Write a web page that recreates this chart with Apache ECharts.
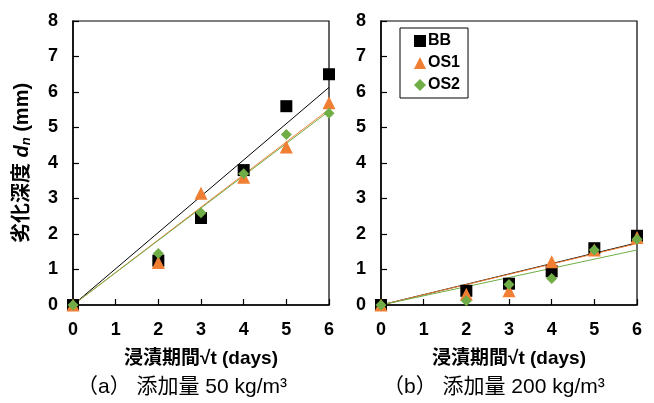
<!DOCTYPE html>
<html><head><meta charset="utf-8">
<script src="https://cdn.jsdelivr.net/npm/echarts@6/dist/echarts.min.js"></script>
<style>html,body{margin:0;padding:0;background:#fff}#c{width:654px;height:403px}</style>
</head><body><div id="c"></div>
<script>
// x values (√t)
var xVals = [0, 2, 3, 4, 5, 6];
// (a) 添加量 50 kg/m3
var aBB  = [0, 1.25, 2.45, 3.8, 5.6, 6.5];
var aOS1 = [0, 1.2, 3.15, 3.6, 4.45, 5.7];
var aOS2 = [0, 1.45, 2.6, 3.7, 4.8, 5.4];
// (b) 添加量 200 kg/m3
var bBB  = [0, 0.4, 0.6, 0.95, 1.6, 1.95];
var bOS1 = [0, 0.3, 0.4, 1.22, 1.55, 1.9];
var bOS2 = [0, 0.12, 0.58, 0.75, 1.55, 1.85];
// trend line values at x = 6 (lines through origin)
var trendX = [0, 6];
var aTrendEnd = {BB: 6.13, OS1: 5.51, OS2: 5.46};
var bTrendEnd = {BB: 1.75, OS1: 1.73, OS2: 1.55};
var xTicks = [0, 1, 2, 3, 4, 5, 6];
var yTicks = [0, 1, 2, 3, 4, 5, 6, 7, 8];
var seriesNames = ['BB', 'OS1', 'OS2'];
var captions = ['（a） 添加量 50 kg/m³', '（b） 添加量 200 kg/m³'];

var colors = {BB: '#000000', OS1: '#F07F33', OS2: '#70AD47'};
var symbols = {BB: 'rect', OS1: 'triangle', OS2: 'diamond'};
var sizes = {BB: 12, OS1: 13, OS2: 11};
var FONT = '"Liberation Sans", Arial, "Noto Sans CJK JP", sans-serif';

function pts(ys) { return xVals.map(function (x, i) { return [x, ys[i]]; }); }

var data = [{BB: aBB, OS1: aOS1, OS2: aOS2}, {BB: bBB, OS1: bOS1, OS2: bOS2}];
var trends = [aTrendEnd, bTrendEnd];

function xAxis(gi) {
  return {
    type: 'value', gridIndex: gi, min: xTicks[0], max: xTicks[xTicks.length - 1], interval: 1,
    name: '浸漬期間√t (days)', nameLocation: 'middle', nameGap: 44,
    nameTextStyle: {fontFamily: FONT, fontWeight: 'bold', fontSize: 19, color: '#000'},
    axisLine: {show: true, onZero: false, lineStyle: {color: '#000', width: 1.5}},
    axisTick: {show: true, inside: true, length: 6, lineStyle: {color: '#000', width: 1.2}},
    axisLabel: {fontFamily: FONT, fontWeight: 'bold', fontSize: 18, color: '#000', margin: 16},
    splitLine: {show: false}
  };
}
function yAxis(gi) {
  var ax = {
    type: 'value', gridIndex: gi, min: yTicks[0], max: yTicks[yTicks.length - 1], interval: 1,
    axisLine: {show: true, onZero: false, lineStyle: {color: '#000', width: 1.5}},
    axisTick: {show: true, inside: true, length: 6, lineStyle: {color: '#000', width: 1.2}},
    axisLabel: {fontFamily: FONT, fontWeight: 'bold', fontSize: 18, color: '#000', margin: 15},
    splitLine: {show: false}
  };
  if (gi === 0) {
    ax.name = '{t|劣化深度 }{d|d}{n|n}{t| (mm)}';
    ax.nameLocation = 'middle';
    ax.nameGap = 40;
    ax.nameTextStyle = {
      color: '#000',
      rich: {
        t: {fontFamily: FONT, fontWeight: 'bold', fontSize: 20, color: '#000'},
        d: {fontFamily: FONT, fontWeight: 'bold', fontStyle: 'italic', fontSize: 20, color: '#000'},
        n: {fontFamily: FONT, fontWeight: 'bold', fontStyle: 'italic', fontSize: 13, color: '#000', verticalAlign: 'bottom', padding: [9, 0, 0, 0]}
      }
    };
  }
  return ax;
}

var series = [];
[0, 1].forEach(function (gi) {
  seriesNames.forEach(function (nm) {
    series.push({
      type: 'line', xAxisIndex: gi, yAxisIndex: gi, showSymbol: false, symbol: 'none',
      data: [[trendX[0], 0], [trendX[1], trends[gi][nm]]],
      lineStyle: {color: colors[nm], width: 1}, z: 3, silent: true, animation: false
    });
  });
  seriesNames.forEach(function (nm) {
    series.push({
      name: nm, type: 'scatter', xAxisIndex: gi, yAxisIndex: gi, clip: false,
      symbol: symbols[nm], symbolSize: sizes[nm],
      itemStyle: {color: colors[nm], opacity: 1}, data: pts(data[gi][nm]), z: 4, animation: false
    });
  });
});

var option = {
  backgroundColor: '#fff',
  animation: false,
  grid: [
    {left: 73, top: 21, width: 256, height: 284, show: true, borderColor: '#000', borderWidth: 1.2, backgroundColor: 'transparent'},
    {left: 381, top: 21, width: 256, height: 284, show: true, borderColor: '#000', borderWidth: 1.2, backgroundColor: 'transparent'}
  ],
  xAxis: [xAxis(0), xAxis(1)],
  yAxis: [yAxis(0), yAxis(1)],
  legend: {
    data: seriesNames.map(function (nm) { return {name: nm, icon: symbols[nm]}; }),
    orient: 'vertical', left: 400, top: 28,
    itemWidth: 12, itemHeight: 12, itemGap: 6,
    padding: [5, 8, 5, 14],
    borderColor: '#000', borderWidth: 1, backgroundColor: '#fff',
    textStyle: {fontFamily: FONT, fontWeight: 'bold', fontSize: 16, color: '#000', padding: [0, 0, 0, -3]}
  },
  graphic: [
    {type: 'text', left: 77, top: 377, style: {text: captions[0], fontFamily: FONT, fontSize: 21, fill: '#000'}},
    {type: 'text', left: 383, top: 377, style: {text: captions[1], fontFamily: FONT, fontSize: 21, fill: '#000'}}
  ],
  series: series
};
var chart = echarts.init(document.getElementById('c'), null, {renderer: 'canvas'});
chart.setOption(option);
</script></body></html>
